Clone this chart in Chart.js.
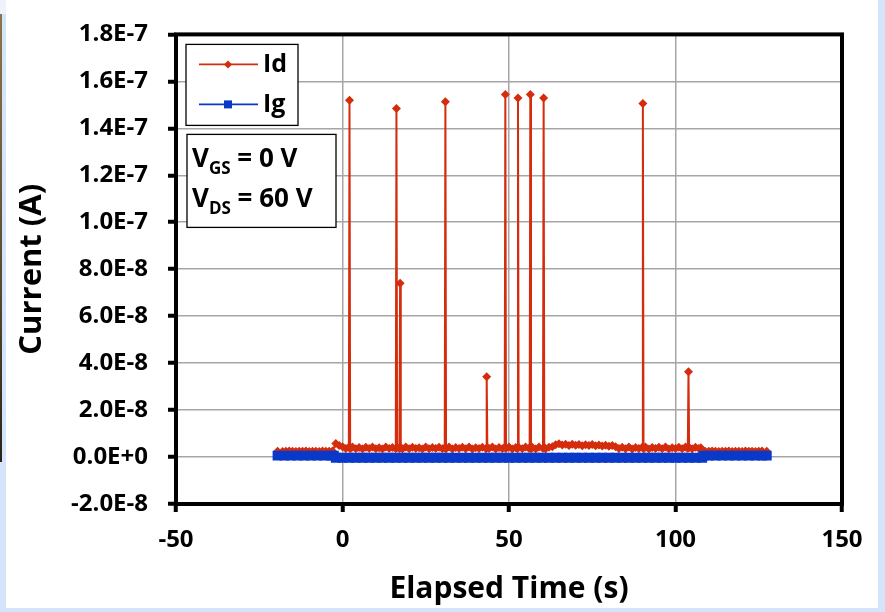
<!DOCTYPE html>
<html>
<head>
<meta charset="utf-8">
<title>Id / Ig vs elapsed time</title>
<script src="https://cdn.jsdelivr.net/npm/chart.js"></script>
<style>
  body { margin: 0; background: #d4e4fa; width: 885px; height: 612px; overflow: hidden; position: relative; }
  #corner { position: absolute; left: 0; top: 0; width: 6px; height: 14px; background: #eef3fb; }
  #edge { position: absolute; left: 0; top: 14px; width: 2px; height: 448px;
          background: linear-gradient(#8c7548, #5a4a30 60%, #2a2418); }
  #frame { position: absolute; left: 6px; top: 0; width: 872px; height: 608px; background: #fff; }
</style>
</head>
<body>
<div id="corner"></div>
<div id="edge"></div>
<div id="frame"><canvas id="chart"></canvas></div>
<script>
// Id: drain current (A) against elapsed time (s)
const idTime = [
  -19.5, -18, -17, -16, -15, -14, -13, -12, -11, -10, -9, -8, -7, -6, -5, -4, -3,
  -2, -1, 0, 1, 1.9, 2.1, 2.3,
  3, 4, 5, 6, 7, 8, 9, 10, 11, 12, 13, 14, 15,
  16.0, 16.2, 16.4, 17.1, 17.3, 17.5,
  18, 19, 20, 21, 22, 23, 24, 25, 26, 27, 28, 29, 30,
  30.7, 30.9, 31.1,
  32, 33, 34, 35, 36, 37, 38, 39, 40, 41, 42,
  43.1, 43.3, 43.5,
  44, 45, 46, 47, 48,
  48.7, 48.9, 49.1,
  50, 51, 52,
  52.5, 52.7, 52.9,
  54, 55, 56,
  56.2, 56.4, 56.6,
  57, 58, 59,
  60.2, 60.4, 60.6,
  61, 62, 63, 64, 65, 66, 67, 68, 69, 70, 71, 72, 73, 74, 75, 76, 77, 78, 79, 80,
  81, 82, 83, 84, 85, 86, 87, 88, 89,
  90.0, 90.2, 90.4,
  91, 92, 93, 94, 95, 96, 97, 98, 99, 100, 101, 102, 103,
  103.7, 103.9, 104.1,
  105, 106, 107, 107.6,
  108.5, 109, 110, 111, 112, 113, 114, 115, 116, 117, 118, 119, 120, 121, 122, 123, 124, 125, 126, 127.4
];
const idCurrent = [
  2.5e-9, 2.4e-9, 2.5e-9, 2.6e-9, 2.5e-9, 2.4e-9, 2.5e-9, 2.5e-9, 2.6e-9, 2.4e-9, 2.5e-9, 2.5e-9, 2.4e-9, 2.6e-9, 2.5e-9, 2.5e-9, 2.6e-9,
  5.8e-9, 4.9e-9, 4.4e-9, 3.6e-9, 4.2e-9, 1.52e-7, 3.5e-9,
  4.3e-9, 3.5e-9, 4.1e-9, 3.4e-9, 4.2e-9, 3.6e-9, 4.3e-9, 3.5e-9, 4.0e-9, 3.4e-9, 4.3e-9, 3.6e-9, 4.1e-9,
  3.5e-9, 1.484e-7, 4.2e-9, 3.6e-9, 7.4e-8, 4.1e-9,
  3.4e-9, 4.3e-9, 3.5e-9, 4.2e-9, 3.6e-9, 4.0e-9, 3.4e-9, 4.3e-9, 3.5e-9, 4.1e-9, 3.6e-9, 4.2e-9, 3.5e-9,
  4.0e-9, 1.513e-7, 3.5e-9,
  4.3e-9, 3.4e-9, 4.1e-9, 3.6e-9, 4.2e-9, 3.5e-9, 4.3e-9, 3.4e-9, 4.0e-9, 3.6e-9, 4.2e-9,
  3.5e-9, 3.42e-8, 4.1e-9,
  3.6e-9, 4.3e-9, 3.4e-9, 4.1e-9, 3.5e-9,
  4.2e-9, 1.544e-7, 3.6e-9,
  4.3e-9, 3.4e-9, 4.1e-9,
  3.5e-9, 1.529e-7, 4.2e-9,
  3.5e-9, 4.3e-9, 3.6e-9,
  4.0e-9, 1.544e-7, 3.5e-9,
  4.2e-9, 3.4e-9, 4.3e-9,
  3.6e-9, 1.529e-7, 4.1e-9,
  3.5e-9, 4.2e-9, 4.4e-9, 5.2e-9, 5.7e-9, 5.1e-9, 5.5e-9, 4.9e-9, 5.4e-9, 5.0e-9, 5.3e-9, 4.8e-9, 5.2e-9, 4.9e-9, 5.3e-9, 4.8e-9, 5.1e-9, 4.7e-9, 5.0e-9, 4.6e-9,
  4.9e-9, 4.4e-9, 3.6e-9, 4.2e-9, 3.5e-9, 4.3e-9, 3.4e-9, 4.1e-9, 3.6e-9,
  4.2e-9, 1.506e-7, 3.5e-9,
  4.3e-9, 3.4e-9, 4.1e-9, 3.6e-9, 4.2e-9, 3.5e-9, 4.3e-9, 3.4e-9, 4.0e-9, 3.6e-9, 4.2e-9, 3.5e-9, 4.3e-9,
  3.6e-9, 3.63e-8, 4.1e-9,
  3.5e-9, 4.2e-9, 3.6e-9, 4.0e-9,
  2.5e-9, 2.4e-9, 2.5e-9, 2.6e-9, 2.5e-9, 2.4e-9, 2.5e-9, 2.5e-9, 2.6e-9, 2.4e-9, 2.5e-9, 2.5e-9, 2.4e-9, 2.6e-9, 2.5e-9, 2.5e-9, 2.4e-9, 2.5e-9, 2.6e-9, 2.5e-9
];

// Ig: gate current (A)
const igTime = [
  -19.5, -17.5, -15.5, -13.5, -11.5, -9.5, -7.5, -5.5, -3.5, -2.6, -2, 0, 2, 4, 6, 8, 10,
  12, 14, 16, 18, 20, 22, 24, 26, 28, 30, 32, 34, 36, 38, 40, 42, 44, 46, 48, 50, 52,
  54, 56, 58, 60, 62, 64, 66, 68, 70, 72, 74, 76, 78, 80, 82, 84, 86, 88, 90, 92, 94,
  96, 98, 100, 102, 104, 106, 108, 108.5, 110, 112, 114, 116, 118, 120, 122, 124, 126, 127.4
];
const igCurrent = [
  6e-10, 6e-10, 6e-10, 6e-10, 6e-10, 6e-10, 6e-10, 6e-10, 6e-10, 6e-10, -3e-10, -3e-10, -3e-10, -3e-10, -3e-10, -3e-10, -3e-10,
  -3e-10, -3e-10, -3e-10, -3e-10, -3e-10, -3e-10, -3e-10, -3e-10, -3e-10, -3e-10, -3e-10, -3e-10, -3e-10, -3e-10, -3e-10, -3e-10, -3e-10, -3e-10, -3e-10, -3e-10, -3e-10,
  -3e-10, -3e-10, -3e-10, -3e-10, -3e-10, -3e-10, -3e-10, -3e-10, -3e-10, -3e-10, -3e-10, -3e-10, -3e-10, -3e-10, -3e-10, -3e-10, -3e-10, -3e-10, -3e-10, -3e-10, -3e-10,
  -3e-10, -3e-10, -3e-10, -3e-10, -3e-10, -3e-10, -3e-10, 6e-10, 6e-10, 6e-10, 6e-10, 6e-10, 6e-10, 6e-10, 6e-10, 6e-10, 6e-10, 6e-10
];

// axis ranges and labels
const xMin = -50, xMax = 150, xStep = 50;
const yMin = -2e-8, yMax = 1.8e-7, yStep = 2e-8;
const xTitle = 'Elapsed Time (s)';
const yTitle = 'Current (A)';
const biasLines = [['V', 'GS', ' = 0 V'], ['V', 'DS', ' = 60 V']];

const RED = '#d42c0c';
const BLUE = '#0a38c8';
const FONT = '"Open Sans", "DejaVu Sans", sans-serif';

function toPoints(xs, ys) {
    return xs.map((x, i) => ({ x: x, y: ys[i] }));
}

// frame, legend and bias box drawn over the plot
const overlayPlugin = {
    id: 'overlay',
    afterDraw(chart) {
        const ctx = chart.ctx;
        const a = chart.chartArea;
        ctx.save();

        ctx.strokeStyle = '#000';
        ctx.lineWidth = 4;
        ctx.strokeRect(a.left, a.top, a.right - a.left, a.bottom - a.top);

        // legend box
        const lx = a.left + 10, ly = a.top + 10;
        ctx.fillStyle = '#fff';
        ctx.fillRect(lx, ly, 112, 81);
        ctx.lineWidth = 1.3;
        ctx.strokeRect(lx, ly, 112, 81);
        chart.data.datasets.forEach((ds, i) => {
            const y = ly + 20 + i * 40;
            ctx.strokeStyle = ds.borderColor;
            ctx.lineWidth = 1.6;
            ctx.beginPath();
            ctx.moveTo(lx + 13, y);
            ctx.lineTo(lx + 72, y);
            ctx.stroke();
            ctx.fillStyle = ds.borderColor;
            const cx = lx + 42;
            if (ds.pointStyle === 'rectRot') {
                ctx.beginPath();
                ctx.moveTo(cx - 4, y); ctx.lineTo(cx, y - 4);
                ctx.lineTo(cx + 4, y); ctx.lineTo(cx, y + 4);
                ctx.closePath();
                ctx.fill();
            } else {
                ctx.fillRect(cx - 4, y - 4, 8, 8);
            }
            ctx.fillStyle = '#000';
            ctx.font = 'bold 25px ' + FONT;
            ctx.textBaseline = 'middle';
            ctx.textAlign = 'left';
            ctx.fillText(ds.label, lx + 77, y);
        });

        // bias conditions box
        const bx = a.left + 11, by = a.top + 100;
        ctx.fillStyle = '#fff';
        ctx.fillRect(bx, by, 149, 93);
        ctx.strokeStyle = '#000';
        ctx.lineWidth = 1.3;
        ctx.strokeRect(bx, by, 149, 93);
        ctx.fillStyle = '#000';
        ctx.textBaseline = 'alphabetic';
        biasLines.forEach((parts, i) => {
            const base = by + 33 + i * 40;
            let x = bx + 5;
            ctx.font = 'bold 26px ' + FONT;
            ctx.fillText(parts[0], x, base);
            x += ctx.measureText(parts[0]).width;
            ctx.font = 'bold 17px ' + FONT;
            ctx.fillText(parts[1], x, base + 7);
            x += ctx.measureText(parts[1]).width;
            ctx.font = 'bold 26px ' + FONT;
            ctx.fillText(parts[2], x, base);
        });
        ctx.restore();
    }
};

new Chart(document.getElementById('chart'), {
    type: 'line',
    data: {
        datasets: [
            {
                label: 'Id',
                data: toPoints(idTime, idCurrent),
                borderColor: RED,
                backgroundColor: RED,
                borderWidth: 2,
                pointStyle: 'rectRot',
                pointRadius: 4.5,
                pointBorderWidth: 0,
                order: 2
            },
            {
                label: 'Ig',
                data: toPoints(igTime, igCurrent),
                borderColor: BLUE,
                backgroundColor: BLUE,
                borderWidth: 2,
                pointStyle: 'rect',
                pointRadius: 7,
                pointBorderWidth: 0,
                order: 1
            }
        ]
    },
    options: {
        responsive: true,
        maintainAspectRatio: false,
        animation: false,
        layout: { padding: { left: 0, top: 30, right: 36, bottom: 0 } },
        plugins: {
            legend: { display: false },
            tooltip: { enabled: false }
        },
        scales: {
            x: {
                type: 'linear',
                min: xMin,
                max: xMax,
                afterFit: scale => { scale.height = 104; },
                ticks: {
                    stepSize: xStep,
                    color: '#000',
                    padding: 14,
                    font: { family: FONT, size: 24, weight: 'bold' }
                },
                grid: { color: '#a6a6a6', lineWidth: 1.5, tickColor: '#000', tickWidth: 4, tickLength: 8 },
                border: { display: false },
                title: {
                    display: true,
                    text: xTitle,
                    color: '#000',
                    padding: { top: 0, bottom: 1 },
                    font: { family: FONT, size: 30, weight: 'bold' }
                }
            },
            y: {
                type: 'linear',
                min: yMin,
                max: yMax,
                afterFit: scale => { scale.width = 170; },
                ticks: {
                    stepSize: yStep,
                    color: '#000',
                    padding: 20,
                    font: { family: FONT, size: 24, weight: 'bold' },
                    callback: v => Math.abs(v) < 1e-12 ? '0.0E+0' : v.toExponential(1).toUpperCase()
                },
                grid: { color: '#a6a6a6', lineWidth: 1.5, tickColor: '#000', tickWidth: 4, tickLength: 8 },
                border: { display: false },
                title: {
                    display: true,
                    text: yTitle,
                    color: '#000',
                    padding: { top: 8, bottom: 0 },
                    font: { family: FONT, size: 31, weight: 'bold' }
                }
            }
        }
    },
    plugins: [overlayPlugin]
});
</script>
</body>
</html>
